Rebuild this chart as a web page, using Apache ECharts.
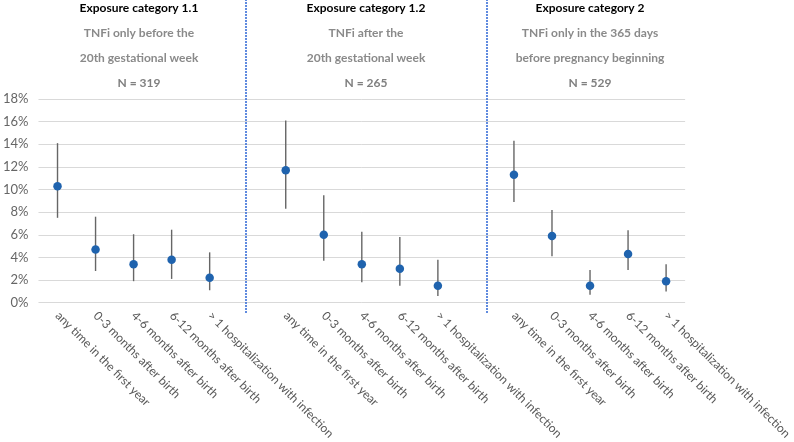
<!DOCTYPE html>
<html>
<head>
<meta charset="utf-8">
<script src="https://cdn.jsdelivr.net/npm/echarts@6/dist/echarts.min.js"></script>
<style>
  html, body { margin: 0; padding: 0; background: #fff; }
  #chart { width: 794px; height: 442px; }
</style>
</head>
<body>
<div id="chart"></div>
<script>
// categories, with an empty slot between the three exposure groups
const categories = [
  "any time in the first year", "0-3 months after birth", "4-6 months after birth",
  "6-12 months after birth", "> 1 hospitalization with infection", "",
  "any time in the first year", "0-3 months after birth", "4-6 months after birth",
  "6-12 months after birth", "> 1 hospitalization with infection", " ",
  "any time in the first year", "0-3 months after birth", "4-6 months after birth",
  "6-12 months after birth", "> 1 hospitalization with infection"
];

// point estimates and 95% CI (percent), "-" = gap slot
const estimate = [10.3, 4.7, 3.4, 3.8, 2.2, "-", 11.7, 6.0, 3.4, 3.0, 1.5, "-", 11.3, 5.9, 1.5, 4.3, 1.9];
const lower    = [7.5, 2.8, 1.9, 2.1, 1.1, "-", 8.3, 3.7, 1.8, 1.5, 0.6, "-", 8.9, 4.1, 0.7, 2.9, 1.0];
const upper    = [14.1, 7.6, 6.05, 6.45, 4.45, "-", 16.1, 9.5, 6.26, 5.8, 3.8, "-", 14.3, 8.2, 2.9, 6.4, 3.4];

const yTicks = [0, 2, 4, 6, 8, 10, 12, 14, 16, 18];

const groupTitles = ["Exposure category 1.1", "Exposure category 1.2", "Exposure category 2"];
const groupLine1  = ["TNFi only before the", "TNFi after the", "TNFi only in the 365 days"];
const groupLine2  = ["20th gestational week", "20th gestational week", "before pregnancy beginning"];
const groupN      = ["N = 319", "N = 265", "N = 529"];

const chart = echarts.init(document.getElementById("chart"));

const font = "Lato, 'Open Sans', sans-serif";
const headerX = [139, 366, 590];

const errorData = categories.map((c, i) => [i, lower[i], upper[i]]).filter(d => d[1] !== "-");

chart.setOption({
  backgroundColor: "#fff",
  animation: false,
  textStyle: { fontFamily: font },

  title: groupTitles.map((t, i) => ({
    text: `{b|${t}}\n{g|${groupLine1[i]}}\n{g|${groupLine2[i]}}\n{n|${groupN[i]}}`,
    left: headerX[i],
    top: -4,
    padding: 0,
    textAlign: "center",
    textStyle: {
      rich: {
        b: { fontFamily: font, fontSize: 12, fontWeight: "bold", color: "#000", lineHeight: 25, align: "center" },
        g: { fontFamily: font, fontSize: 12, color: "#8a8a8a", lineHeight: 25, align: "center" },
        n: { fontFamily: font, fontSize: 12, fontWeight: "bold", color: "#7f7f7f", lineHeight: 25, align: "center" },
      },
    },
  })),

  grid: [
    { left: 33, right: 101, top: 99, bottom: 137 },
    { left: 33, right: 101, top: 0, bottom: 129 },
  ],

  xAxis: [
    {
      type: "category",
      data: categories,
      gridIndex: 0,
      axisLine: { show: false },
      axisTick: { show: false },
      axisLabel: {
        interval: 0,
        rotate: -45,
        color: "#595959",
        fontSize: 12,
        fontFamily: font,
        margin: 11,
      },
    },
    { type: "value", gridIndex: 1, min: -0.5, max: 16.5, show: false },
  ],

  yAxis: [
    {
      type: "value",
      gridIndex: 0,
      min: yTicks[0],
      max: yTicks[yTicks.length - 1],
      interval: 2,
      axisLine: { show: false },
      axisTick: { show: false },
      axisLabel: { color: "#666", fontSize: 13, fontFamily: font, formatter: "{value}%", margin: 10 },
      splitLine: { lineStyle: { color: "#d9d9d9", width: 1 } },
    },
    { type: "value", gridIndex: 1, min: 0, max: 1, show: false },
  ],

  series: [
    {
      name: "CI",
      type: "custom",
      xAxisIndex: 0,
      yAxisIndex: 0,
      data: errorData,
      renderItem: (params, api) => {
        const lo = api.coord([api.value(0), api.value(1)]);
        const hi = api.coord([api.value(0), api.value(2)]);
        return {
          type: "line",
          shape: { x1: lo[0], y1: lo[1], x2: hi[0], y2: hi[1] },
          style: { stroke: "#666", lineWidth: 1.4 },
        };
      },
      z: 2,
    },
    {
      name: "Estimate",
      type: "scatter",
      xAxisIndex: 0,
      yAxisIndex: 0,
      data: estimate,
      symbolSize: 8.5,
      itemStyle: { color: "#1F63AE", opacity: 1 },
      z: 3,
    },
    {
      name: "separators",
      type: "line",
      xAxisIndex: 1,
      yAxisIndex: 1,
      data: [],
      markLine: {
        silent: true,
        symbol: ["none", "none"],
        label: { show: false },
        lineStyle: { color: "#3a6fd8", type: [2, 1], width: 1.6, opacity: 1 },
        data: [{ xAxis: 4.97 }, { xAxis: 11.2 }],
      },
    },
  ],
});
</script>
</body>
</html>
